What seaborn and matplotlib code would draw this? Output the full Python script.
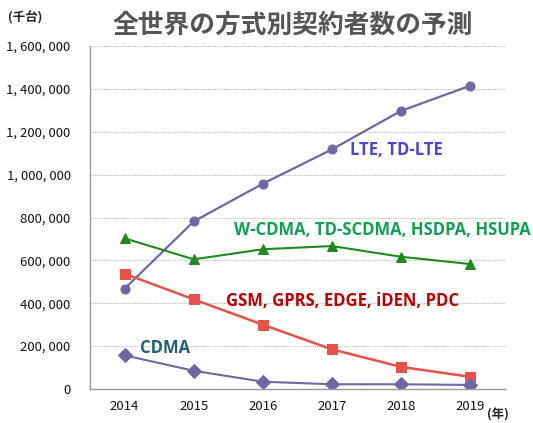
import pandas as pd
import matplotlib
matplotlib.use("Agg")
import matplotlib.pyplot as plt
import seaborn as sns

# --- Daten ---
years = [2014, 2015, 2016, 2017, 2018, 2019]
lte = [468000, 782000, 958000, 1118000, 1298000, 1415000]
wcdma = [703000, 605000, 652000, 667000, 617000, 583000]
gsm = [538000, 418000, 300000, 185000, 103000, 57000]
cdma = [157000, 85000, 34000, 22000, 22000, 19000]
yticks = [0, 200000, 400000, 600000, 800000, 1000000, 1200000, 1400000, 1600000]

sns.set_style("white")
plt.rcParams["font.family"] = ["Noto Sans CJK JP", "DejaVu Sans"]

fig = plt.figure(figsize=(5.33, 4.23), dpi=100)
ax = fig.add_axes([0.169, 0.0804, 0.778, 0.8106])

series = [
    (lte, "#6b68a4", "o", 6.5, 1.6),
    (wcdma, "#1e8a1e", "^", 7, 1.5),
    (gsm, "#e8504a", "s", 6.5, 1.8),
    (cdma, "#6b68a4", "D", 7, 1.5),
]
for vals, col, mk, ms, lw in series:
    sns.lineplot(x=years, y=vals, ax=ax, color=col, marker=mk, markersize=ms,
                 markeredgecolor=col, linewidth=lw)

ax.set_xlim(2013.5, 2019.5)
ax.set_ylim(0, 1600000)
ax.set_yticks(yticks)
ax.set_yticklabels([f"{v:,}".replace(",", ", ") for v in yticks], fontsize=9.5, color="#111")
ax.set_xticks([y - 0.5 for y in years] + [2019.5])
ax.set_xticklabels([])
ax.set_xticks(years, minor=True)
ax.set_xticklabels([str(y) for y in years], minor=True, fontsize=9.5, color="#111")
ax.tick_params(axis="x", which="major", length=4, color="#999", direction="out")
ax.tick_params(axis="x", which="minor", length=0, pad=8)
ax.tick_params(axis="y", length=4, color="#999", direction="out", pad=10)

ax.grid(axis="y", linestyle=(0, (1, 1)), color="#bbbbbb", linewidth=0.8)
for s in ["top", "right"]:
    ax.spines[s].set_visible(False)
for s in ["left", "bottom"]:
    ax.spines[s].set_color("#999")
    ax.spines[s].set_linewidth(1)

lab = dict(fontfamily=["Open Sans", "DejaVu Sans"], fontweight="bold", fontsize=12)
ax.text(2017.93, 1115000, "LTE, TD-LTE", color="#4a45e0", ha="center", va="center", **lab)
ax.text(2017.73, 742000, "W-CDMA, TD-SCDMA, HSDPA, HSUPA", color="#10a050", ha="center", va="center", **lab)
ax.text(2017.15, 410000, "GSM, GPRS, EDGE, iDEN, PDC", color="#c00000", ha="center", va="center", **lab)
ax.text(2014.58, 191000, "CDMA", color="#1f5f6f", ha="center", va="center", **lab)

fig.text(0.55, 0.94, "全世界の方式別契約者数の予測", ha="center", va="center",
         fontsize=18.5, fontweight="bold", color="#555555")
fig.text(0.047, 0.957, "(千台)", ha="center", va="center", fontsize=9, fontweight="bold", color="#222")
fig.text(0.934, 0.003, "(年)", ha="center", va="bottom", fontsize=9, fontweight="bold", color="#222")

plt.savefig("out.png", dpi=100)
